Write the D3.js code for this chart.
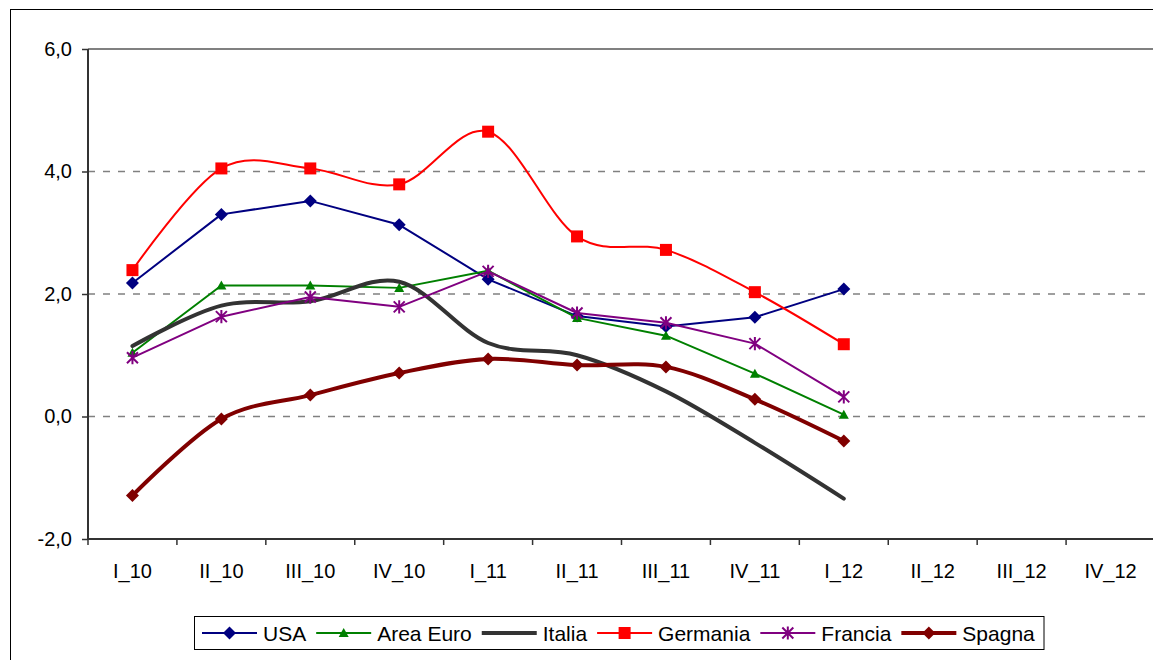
<!DOCTYPE html>
<head>
  <meta charset="utf-8">
  <script src="https://d3js.org/d3.v7.min.js"></script>
  <style>
    body { margin:0; background:#fff; }
    svg { display:block; }
    text { font-family: "Liberation Sans", Arial, sans-serif; fill:#000; }
  </style>
</head>
<body>
<script>
  var width = 1153;
  var height = 660;

  // categories (quarters) and tick values
  var quarters = ["I_10","II_10","III_10","IV_10","I_11","II_11","III_11","IV_11","I_12","II_12","III_12","IV_12"];
  var yTicks = [-2, 0, 2, 4, 6];

  // series values (only up to I_12)
  var usa      = [2.18, 3.3, 3.52, 3.13, 2.24, 1.64, 1.47, 1.62, 2.08];
  var areaEuro = [1.04, 2.14, 2.14, 2.1, 2.38, 1.61, 1.32, 0.7, 0.03];
  var italia   = [1.15, 1.81, 1.88, 2.2, 1.2, 1.0, 0.41, -0.43, -1.34];
  var germania = [2.39, 4.05, 4.05, 3.79, 4.65, 2.94, 2.72, 2.03, 1.18];
  var francia  = [0.96, 1.63, 1.95, 1.79, 2.37, 1.69, 1.53, 1.19, 0.32];
  var spagna   = [-1.29, -0.04, 0.35, 0.71, 0.94, 0.84, 0.81, 0.28, -0.4];

  var series = [
    {name:"USA",       values:usa,      color:"#000080", w:2, marker:"diamond",  smooth:false},
    {name:"Area Euro", values:areaEuro, color:"#008000", w:2, marker:"triangle", smooth:false},
    {name:"Italia",    values:italia,   color:"#333333", w:4, marker:null,       smooth:true},
    {name:"Germania",  values:germania, color:"#FF0000", w:2, marker:"square",   smooth:true},
    {name:"Francia",   values:francia,  color:"#800080", w:2, marker:"star",     smooth:false},
    {name:"Spagna",    values:spagna,   color:"#800000", w:4, marker:"diamond",  smooth:true}
  ];

  var plot = {left:88, right:1155, top:49, bottom:539};

  var svg = d3.select("body").append("svg")
    .attr("width", width)
    .attr("height", height);

  // outer frame of the chart
  svg.append("rect")
    .attr("x", 10.5).attr("y", 9.5)
    .attr("width", 1200).attr("height", 700)
    .attr("fill", "none")
    .attr("stroke", "#000")
    .attr("stroke-width", 1);

  var x = d3.scaleBand()
    .domain(quarters)
    .range([plot.left, plot.right]);

  var y = d3.scaleLinear()
    .domain([-2, 6])
    .range([plot.bottom, plot.top]);

  function cx(i) { return x(quarters[i]) + x.bandwidth() / 2; }

  // gridlines (dashed, top one solid)
  svg.append("g").selectAll("line")
    .data(yTicks.filter(function(d) { return d > -2; }))
    .enter().append("line")
    .attr("x1", plot.left).attr("x2", plot.right)
    .attr("y1", function(d) { return y(d); })
    .attr("y2", function(d) { return y(d); })
    .attr("stroke", "#808080")
    .attr("stroke-width", function(d) { return d == 6 ? 2 : 1.5; })
    .attr("stroke-dasharray", function(d) { return d == 6 ? null : "7,8"; });

  // y axis, italian decimal comma and plain hyphen for negatives
  var yAxis = svg.append("g")
    .attr("transform", "translate(" + plot.left + ",0)")
    .call(d3.axisLeft(y).tickValues(yTicks).tickSize(6).tickPadding(10)
      .tickFormat(function(d) { return d.toFixed(1).replace(".", ","); }));
  yAxis.select(".domain").attr("stroke", "#333").attr("stroke-width", 2)
    .attr("d", "M0," + plot.top + "V" + plot.bottom);
  yAxis.selectAll(".tick line").attr("stroke", "#333").attr("stroke-width", 1.5);
  yAxis.selectAll("text")
    .style("font-family", "'Liberation Sans', Arial, sans-serif")
    .style("font-size", "20px")
    .attr("fill", "#000");

  // x axis, ticks on band boundaries
  var xAxis = svg.append("g")
    .attr("transform", "translate(0," + plot.bottom + ")");
  xAxis.append("line")
    .attr("x1", plot.left).attr("x2", plot.right)
    .attr("stroke", "#333").attr("stroke-width", 2);
  xAxis.selectAll(".xtick")
    .data(quarters)
    .enter().append("line")
    .attr("class", "xtick")
    .attr("x1", function(d) { return x(d); })
    .attr("x2", function(d) { return x(d); })
    .attr("y1", 0).attr("y2", 6)
    .attr("stroke", "#333").attr("stroke-width", 1.5);
  xAxis.selectAll(".xlabel")
    .data(quarters)
    .enter().append("text")
    .attr("class", "xlabel")
    .attr("x", function(d) { return x(d) + x.bandwidth() / 2; })
    .attr("y", 39)
    .attr("text-anchor", "middle")
    .style("font-size", "20px")
    .text(function(d) { return d; });

  function markerPath(type, s) {
    if (type == "diamond") return "M0," + (-s) + "L" + s + ",0L0," + s + "L" + (-s) + ",0Z";
    if (type == "square") return "M" + (-s) + "," + (-s) + "h" + 2*s + "v" + 2*s + "h" + (-2*s) + "Z";
    if (type == "triangle") return "M0," + (-s) + "L" + s + "," + (s*0.8) + "L" + (-s) + "," + (s*0.8) + "Z";
    if (type == "star") return "M" + (-s) + "," + (-s) + "L" + s + "," + s + "M" + (-s) + "," + s + "L" + s + "," + (-s) +
                               "M0," + (-s*1.2) + "V" + (s*1.2);
    return "";
  }
  var markerSize = {diamond:6.5, square:6, triangle:5, star:5.5};

  function drawMarker(g, type, color, tx, ty) {
    var s = markerSize[type];
    var p = g.append("path")
      .attr("transform", "translate(" + tx + "," + ty + ")")
      .attr("d", markerPath(type, s));
    if (type == "star") p.attr("fill", "none").attr("stroke", color).attr("stroke-width", 2);
    else p.attr("fill", color).attr("stroke", "none");
  }

  var straight = d3.line()
    .x(function(d, i) { return cx(i); })
    .y(function(d) { return y(d); });
  var smooth = d3.line()
    .x(function(d, i) { return cx(i); })
    .y(function(d) { return y(d); })
    .curve(d3.curveCardinal.tension(0));

  series.forEach(function(s) {
    var g = svg.append("g");
    g.append("path")
      .datum(s.values)
      .attr("d", s.smooth ? smooth : straight)
      .attr("fill", "none")
      .attr("stroke", s.color)
      .attr("stroke-width", s.w)
      .attr("stroke-linejoin", "round")
      .attr("stroke-linecap", "round");
    if (s.marker) {
      s.values.forEach(function(v, i) {
        drawMarker(g, s.marker, s.color, cx(i), y(v));
      });
    }
  });

  // legend
  var legend = svg.append("g");
  var box = legend.append("rect")
    .attr("y", 616.5).attr("height", 33)
    .attr("fill", "#fff")
    .attr("stroke", "#000").attr("stroke-width", 1);
  var lx = 202, ly = 633;
  series.forEach(function(s) {
    legend.append("line")
      .attr("x1", lx).attr("x2", lx + 55)
      .attr("y1", ly).attr("y2", ly)
      .attr("stroke", s.color).attr("stroke-width", s.w);
    if (s.marker) drawMarker(legend, s.marker, s.color, lx + 27.5, ly);
    var t = legend.append("text")
      .attr("x", lx + 61).attr("y", ly + 7.5)
      .style("font-size", "21px")
      .text(s.name);
    lx = lx + 61 + t.node().getComputedTextLength() + 10;
  });
  box.attr("x", 194.5).attr("width", 1044 - 194.5);
</script>
</body>
